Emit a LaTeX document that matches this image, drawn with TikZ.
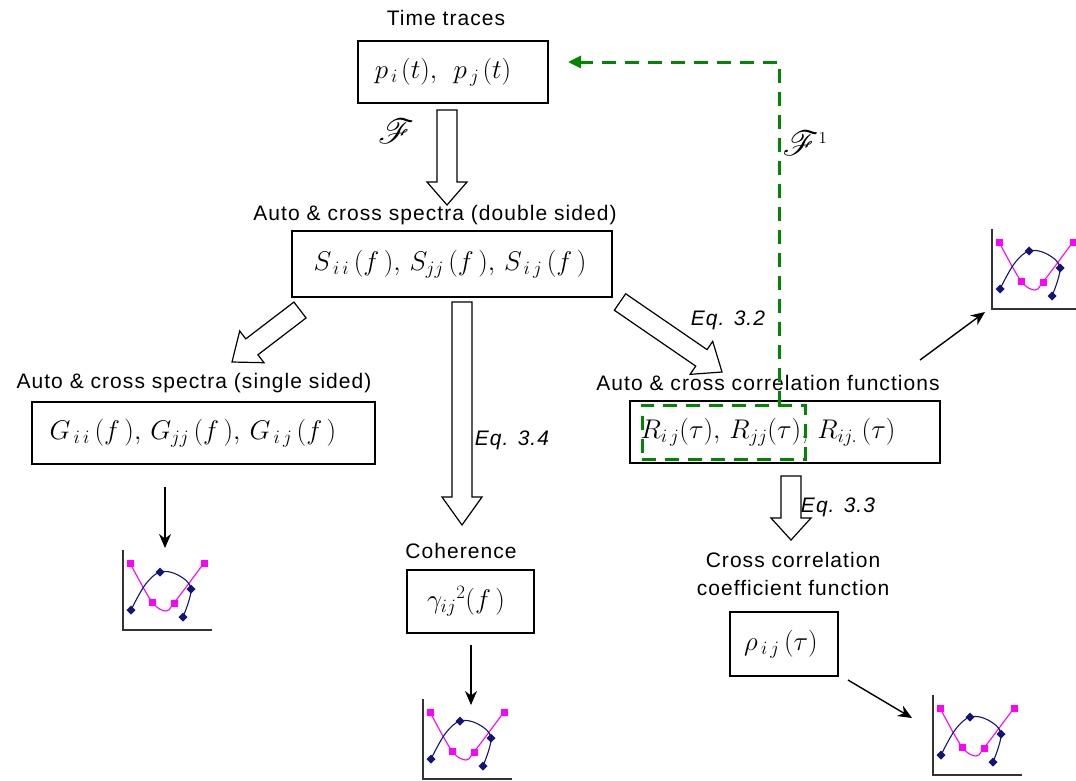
\RequirePackage{fix-cm}
\documentclass[tikz,border=0pt]{standalone}
\usepackage[no-math]{fontspec}
\setmainfont[LetterSpace=5]{Liberation Sans}
\usepackage{mathrsfs}
\usetikzlibrary{calc,arrows.meta}
\definecolor{gcol}{RGB}{0,135,0}
\definecolor{pinkc}{RGB}{255,0,255}
\definecolor{navyc}{RGB}{20,20,120}
\newcommand\blockarr[3]{%
  \coordinate (ba-s) at #1; \coordinate (ba-e) at #2;
  \coordinate (ba-h) at ($(ba-e)!#3!(ba-s)$);
  \draw[blockarrow] ($(ba-s)!10pt!90:(ba-e)$) -- ($(ba-h)!10pt!90:(ba-e)$) --
    ($(ba-h)!20pt!90:(ba-e)$) -- (ba-e) -- ($(ba-h)!20pt!-90:(ba-e)$) --
    ($(ba-h)!10pt!-90:(ba-e)$) -- ($(ba-s)!10pt!-90:(ba-e)$) -- cycle;}
\tikzset{pics/miniplot/.style={code={
  \draw[line width=1.6pt, black!80] (0,-80) -- (0,0) -- (89,0);
  \draw[pinkc, line width=1.1pt] plot[smooth, tension=0.55] coordinates {(7,-67) (29,-28) (43,-19) (51,-27) (81,-67)};
  \draw[navyc, line width=1.1pt] plot[smooth, tension=0.6] coordinates {(8,-20) (22,-45) (37,-58) (55,-55) (68,-41) (60,-13)};
  \foreach \q in {(7,-67),(29,-28),(51,-27),(81,-67)} \fill[pinkc] \q ++(-3.5,-3.5) rectangle ++(7,7);
  \foreach \q in {(8,-20),(37,-58),(68,-41),(60,-13)} \fill[navyc] \q ++(0,-4.5) -- ++(4.5,4.5) -- ++(-4.5,4.5) -- ++(-4.5,-4.5) -- cycle;
}}}
\begin{document}
\begin{tikzpicture}[x=1pt,y=-1pt,
  lbl/.style={font=\fontsize{21}{25}\selectfont, inner sep=0},
  eq/.style={font=\fontsize{21}{25}\selectfont\itshape, inner sep=0},
  box/.style={draw, line width=1.3pt, inner sep=0},
  mth/.style={font=\fontsize{27}{32}\selectfont, inner sep=0},
  blockarrow/.style={draw, line width=1.2pt, fill=white, line join=miter},
  blk/.style={-{Stealth[length=14pt,width=12pt]}, line width=1.4pt},
  grn/.style={draw=gcol, line width=3pt, dash pattern=on 14pt off 9pt},
]
\useasboundingbox[fill=white] (0,0) rectangle (1076,780);

% boxes
\node[box, minimum width=190pt, minimum height=62pt] (b1) at (453,72) {};
\node[mth] at (443,72) {$p_{\,i\,}(t),\;\, p_{\,j\,}(t)$};
\node[box, minimum width=320pt, minimum height=66pt] (b2) at (452,264) {};
\node[mth] at (450,264) {$S_{\,i\,i}\,(f\,),\, S_{jj}\,(f\,),\, S_{\,i\,j}\,(f\,)$};
\node[box, minimum width=343pt, minimum height=62pt] (b3) at (203.5,433) {};
\node[mth] at (193,433) {$G_{\,i\,i}\,(f\,),\, G_{jj}\,(f\,),\, G_{\,i\,j}\,(f\,)$};
\node[box, minimum width=310pt, minimum height=62pt] (b4) at (785,432) {};
\node[mth] at (768,432) {$R_{i\,j}(\tau),\, R_{jj}(\tau),\, R_{ij.}\,(\tau)$};
\node[box, minimum width=108pt, minimum height=64pt] (b5) at (784,644) {};
\node[mth] at (781,644) {$\rho_{\,i\,j}\,(\tau)$};
\node[box, minimum width=127pt, minimum height=63pt] (b6) at (470.5,601.5) {};
\node[mth] at (466,601.5) {$\gamma_{ij}{}^{2}(f\,)$};

% labels
\node[lbl] (l1) at (446,18) {Time traces};
\node[lbl] (l2) at (435,215) {Auto \& cross spectra (double sided)};
\node[lbl] (l3) at (194,383) {Auto \& cross spectra (single sided)};
\node[lbl] (l4) at (768,383) {Auto \& cross correlation functions};
\node[lbl] (l5) at (461,551) {Coherence};
\node[lbl] (l6) at (793,560) {Cross correlation};
\node[lbl] (l7) at (793,588) {coefficient function};
\node[eq] (e2) at (728,320) {Eq. 3.2};
\node[eq] (e4) at (512,440) {Eq. 3.4};
\node[eq] (e3) at (838,507) {Eq. 3.3};
\node[inner sep=0, font=\fontsize{24}{28}\selectfont] (f1) at (396,131) {\scalebox{1.4}{$\mathscr{F}$}};
\node[inner sep=0, font=\fontsize{24}{28}\selectfont] (f2) at (805,143) {\scalebox{1.4}{$\mathscr{F}^{\scriptscriptstyle 1}$}};

% block arrows
\blockarr{(447,110)}{(447,205)}{23pt}
\blockarr{(300,310)}{(232,362)}{25pt}
\blockarr{(462,302)}{(462,525)}{28pt}
\blockarr{(620,302)}{(722,372)}{25pt}
\blockarr{(791,476)}{(791,540)}{22pt}

% green inverse path
\node[grn, minimum width=163pt, minimum height=54pt, inner sep=0] (gr) at (723.5,432) {};
\coordinate (gtop) at (779,405);
\coordinate (gcorner) at (779,62);
\coordinate (gend) at (568,62);
\draw[grn, -{Triangle[length=13pt,width=12pt]}] (gtop) -- (gcorner) -- (gend);

% mini plots
\pic at (123,630) {miniplot};
\pic at (423,779) {miniplot};
\pic at (933,775) {miniplot};
\pic at (992,309) {miniplot};

% black arrows
\coordinate (a1s) at (165,487); \coordinate (a1e) at (165,548);
\coordinate (a2s) at (471,645); \coordinate (a2e) at (471,705);
\coordinate (a3s) at (848,680); \coordinate (a3e) at (912,718);
\coordinate (a4s) at (920,360); \coordinate (a4e) at (985,312);
\draw[blk] (a1s) -- (a1e);
\draw[blk] (a2s) -- (a2e);
\draw[blk] (a3s) -- (a3e);
\draw[blk] (a4s) -- (a4e);
\end{tikzpicture}
\end{document}
